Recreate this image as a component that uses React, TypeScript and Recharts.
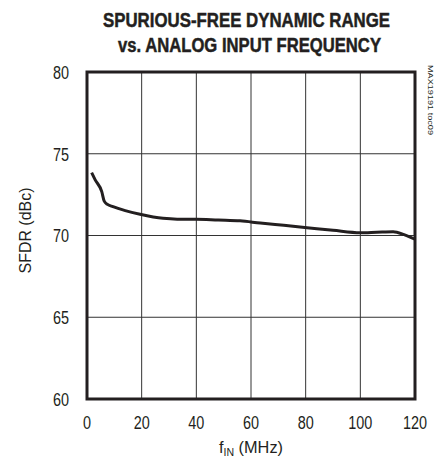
import React from 'react';
import { LineChart, Line, XAxis, YAxis, CartesianGrid, ReferenceArea } from 'recharts';

const freqMHz = [1.7, 3, 5.4, 6.3, 7.5, 9.5, 14, 19.4, 27.8, 33, 40, 48, 56, 63.4, 72, 80.5, 90, 100, 106, 112, 116, 118, 120];
const sfdrDbc = [73.84, 73.4, 72.68, 72.1, 71.9, 71.76, 71.52, 71.3, 71.05, 71.0, 71.0, 70.95, 70.9, 70.76, 70.62, 70.48, 70.32, 70.17, 70.2, 70.23, 70.05, 69.92, 69.77];
const xTicks = [0, 20, 40, 60, 80, 100, 120];
const yTicks = [60, 65, 70, 75, 80];
const titleLines = ['SPURIOUS-FREE DYNAMIC RANGE', 'vs. ANALOG INPUT FREQUENCY'];
const note = 'MAX19191 toc09';
const yLabel = 'SFDR (dBc)';

const data = freqMHz.map((f, i) => ({ f, v: sfdrDbc[i] }));

const FONT = '"Liberation Sans", Arial, sans-serif';
const INK = '#231f20';
const SX = 0.76;
const TSX = 0.74;

const XTick = (props: any) => {
  const { x, y, payload } = props;
  return (
    <text transform={`translate(${x},${y}) scale(${SX},1)`} textAnchor="middle" dy="0.71em" fontFamily={FONT} fontSize={19} fill={INK}>
      {payload.value}
    </text>
  );
};

const YTick = (props: any) => {
  const { x, y, payload } = props;
  return (
    <text transform={`translate(${x},${y}) scale(${SX},1)`} textAnchor="end" dy="0.355em" fontFamily={FONT} fontSize={19} fill={INK}>
      {payload.value}
    </text>
  );
};

const XLabel = (props: any) => {
  const vb = props.viewBox || {};
  const cx = vb.x + vb.width / 2;
  return (
    <text x={cx - 32} y={vb.y + vb.height + 24} textLength={64} lengthAdjust="spacingAndGlyphs" fontFamily={FONT} fontSize={17} fill={INK}>
      <tspan>f</tspan>
      <tspan fontSize={11} dy={3}>IN</tspan>
      <tspan dy={-3}> (MHz)</tspan>
    </text>
  );
};

const YLabel = (props: any) => {
  const vb = props.viewBox || {};
  const cy = vb.y + vb.height / 2 - 5;
  return (
    <text transform={`translate(31,${cy}) rotate(-90)`} textAnchor="middle" textLength={86} lengthAdjust="spacingAndGlyphs" fontFamily={FONT} fontSize={17} fill={INK}>
      {yLabel}
    </text>
  );
};

export default function App() {
  return (
    <div style={{ position: 'absolute', left: 0, top: 0, width: 436, height: 458, background: '#fff' }}>
      <LineChart width={436} height={458} data={data} margin={{ top: 72, right: 21, bottom: 29, left: 47 }}>
        <CartesianGrid stroke="#333" strokeWidth={1} horizontalValues={yTicks} verticalValues={xTicks} />
        <XAxis
          dataKey="f"
          type="number"
          domain={[0, 120]}
          ticks={xTicks}
          axisLine={false}
          tickLine={false}
          height={30}
          tick={<XTick />}
          tickMargin={11}
          label={<XLabel />}
        />
        <YAxis
          type="number"
          domain={[60, 80]}
          ticks={yTicks}
          axisLine={false}
          tickLine={false}
          width={40}
          tick={<YTick />}
          tickMargin={12}
          label={<YLabel />}
        />
        <ReferenceArea x1={0} x2={120} y1={60} y2={80} fill="none" fillOpacity={0} stroke={INK} strokeWidth={3} ifOverflow="visible" />
        <Line type="monotone" dataKey="v" stroke={INK} strokeWidth={3} dot={false} isAnimationActive={false} />
      </LineChart>
      <svg width={436} height={458} style={{ position: 'absolute', left: 0, top: 0, pointerEvents: 'none' }}>
        <text transform={`translate(103,26.7) scale(${TSX},1)`} textLength={287 / TSX} lengthAdjust="spacingAndGlyphs" fontFamily={FONT} fontWeight="bold" fontSize={21} fill={INK} stroke={INK} strokeWidth={0.5}>
          {titleLines[0]}
        </text>
        <text transform={`translate(118,51.7) scale(${TSX},1)`} textLength={263 / TSX} lengthAdjust="spacingAndGlyphs" fontFamily={FONT} fontWeight="bold" fontSize={21} fill={INK} stroke={INK} strokeWidth={0.5}>
          {titleLines[1]}
        </text>
        <text transform="translate(428,65) rotate(90)" textLength={70} lengthAdjust="spacingAndGlyphs" fontFamily={FONT} fontSize={8} fill={INK}>
          {note}
        </text>
      </svg>
    </div>
  );
}
